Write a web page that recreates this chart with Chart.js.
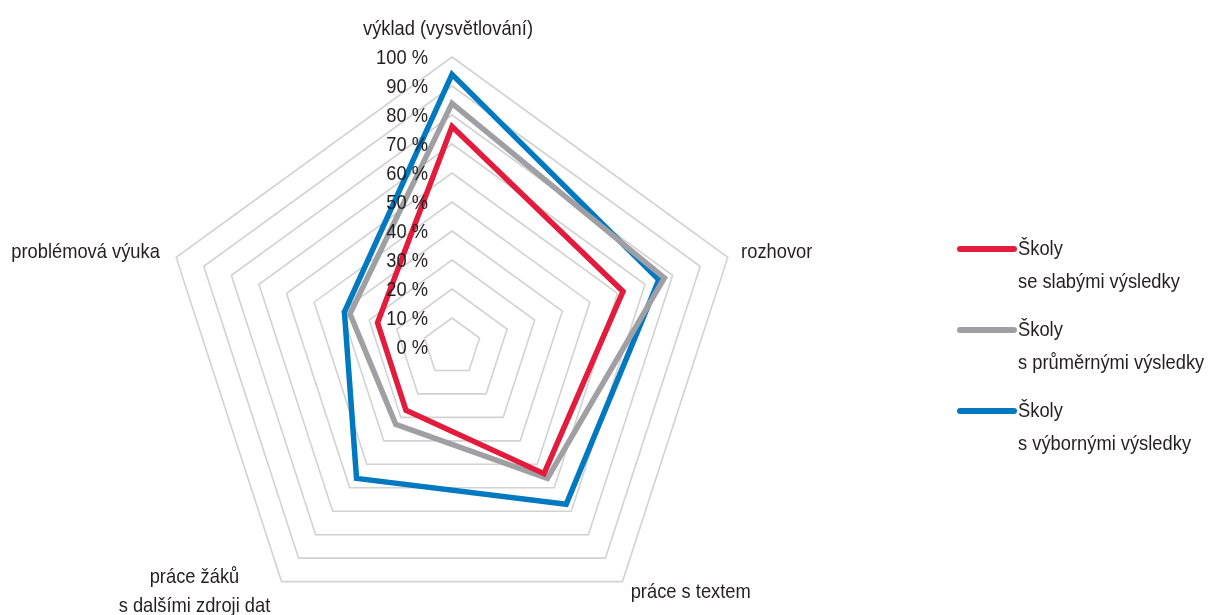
<!DOCTYPE html>
<html lang="cs">
<head>
<meta charset="utf-8">
<title>Radar</title>
<script src="https://cdn.jsdelivr.net/npm/chart.js@4.4.1/dist/chart.umd.min.js"></script>
<style>
  html, body { margin: 0; padding: 0; background: #fff; overflow: hidden; }
  #wrap { position: absolute; left: 0; top: 0; width: 1208px; height: 700px; }
</style>
</head>
<body>
<div id="wrap"><canvas id="chart" width="1208" height="700"></canvas></div>
<script>
const categories = [
  ['výklad (vysvětlování)'],
  ['rozhovor'],
  ['práce s textem'],
  ['práce žáků', 's dalšími zdroji dat'],
  ['problémová výuka']
];
const weakSchools = [76, 62, 54, 27, 27];
const averageSchools = [84, 77, 56, 33, 37];
const bestSchools = [94, 75, 67, 56, 39];
const seriesNames = [
  ['Školy', 'se slabými výsledky'],
  ['Školy', 's průměrnými výsledky'],
  ['Školy', 's výbornými výsledky']
];
const tickValues = [0, 10, 20, 30, 40, 50, 60, 70, 80, 90, 100];
const tickLabels = tickValues.map(v => v + ' %');

const FONT = '21px "Liberation Sans", Arial, sans-serif';
const TEXT = '#231f20';
let squeeze = 0.82; // condensed look, set from the title width below

// draws text squeezed horizontally so it looks like a condensed face
function condensedText(ctx, text, x, y, align) {
  const w = ctx.measureText(text).width * squeeze;
  let left = x;
  if (align === 'center') left = x - w / 2;
  if (align === 'right') left = x - w;
  ctx.save();
  ctx.translate(left, y);
  ctx.scale(squeeze, 1);
  ctx.textAlign = 'left';
  ctx.fillText(text, 0, 0);
  ctx.restore();
}

const labelsPlugin = {
  id: 'labels',
  afterDraw(chart) {
    const ctx = chart.ctx;
    const scale = chart.scales.r;
    ctx.save();
    ctx.fillStyle = TEXT;
    ctx.font = FONT;
    ctx.textBaseline = 'middle';
    squeeze = 170 / ctx.measureText(categories[0][0]).width;

    // tick labels, left of the top axis
    tickValues.forEach((v, i) => {
      const y = scale.yCenter - scale.getDistanceFromCenterForValue(v);
      condensedText(ctx, tickLabels[i], scale.xCenter - 24, y + 1, 'right');
    });

    // category labels
    const lh = 29;
    categories.forEach((lines, i) => {
      const p = scale.getPointPosition(i, scale.drawingArea + 14);
      const dx = p.x - scale.xCenter;
      const w = Math.max(...lines.map(t => ctx.measureText(t).width)) * squeeze;
      let cx, top;
      if (Math.abs(dx) < 5) {
        cx = p.x - 4;
        top = p.y + 1 - lines.length * lh;
      } else if (dx > 0) {
        cx = p.x + w / 2;
        top = p.y - 1 - lines.length * lh / 2;
      } else {
        cx = p.x - 3 - w / 2;
        top = p.y - 1 - lines.length * lh / 2;
      }
      lines.forEach((t, k) => condensedText(ctx, t, cx, top + lh / 2 + k * lh, 'center'));
    });

    // legend
    const lx = 960, ly = 249, step = 81;
    chart.data.datasets.forEach((ds, i) => {
      const y = ly + i * step;
      ctx.strokeStyle = ds.borderColor;
      ctx.lineWidth = 6;
      ctx.lineCap = 'round';
      ctx.beginPath();
      ctx.moveTo(lx, y);
      ctx.lineTo(lx + 54, y);
      ctx.stroke();
      ctx.fillStyle = TEXT;
      ds.label.forEach((t, k) => condensedText(ctx, t, lx + 58, y + k * 33, 'left'));
    });
    ctx.restore();
  }
};

const ctx = document.getElementById('chart').getContext('2d');
const colors = ['#e31b3c', '#a0a0a4', '#0079c1'];
window.chart = new Chart(ctx, {
  type: 'radar',
  data: {
    labels: categories,
    datasets: [weakSchools, averageSchools, bestSchools].map((d, i) => ({
      label: seriesNames[i],
      data: d,
      borderColor: colors[i],
      backgroundColor: 'transparent',
      borderWidth: 5.5,
      borderJoinStyle: 'miter',
      pointRadius: 0,
      pointHoverRadius: 0,
      fill: false
    }))
  },
  options: {
    responsive: false,
    animation: false,
    devicePixelRatio: 1,
    layout: { padding: { left: 162, right: 466, top: 57, bottom: 63 } },
    plugins: { legend: { display: false }, tooltip: { enabled: false } },
    scales: {
      r: {
        min: 0,
        max: 100,
        ticks: { stepSize: 10, display: false },
        angleLines: { display: false },
        grid: { color: '#d2d2d2', lineWidth: 1.6 },
        pointLabels: { display: false }
      }
    }
  },
  plugins: [labelsPlugin]
});
</script>
</body>
</html>
